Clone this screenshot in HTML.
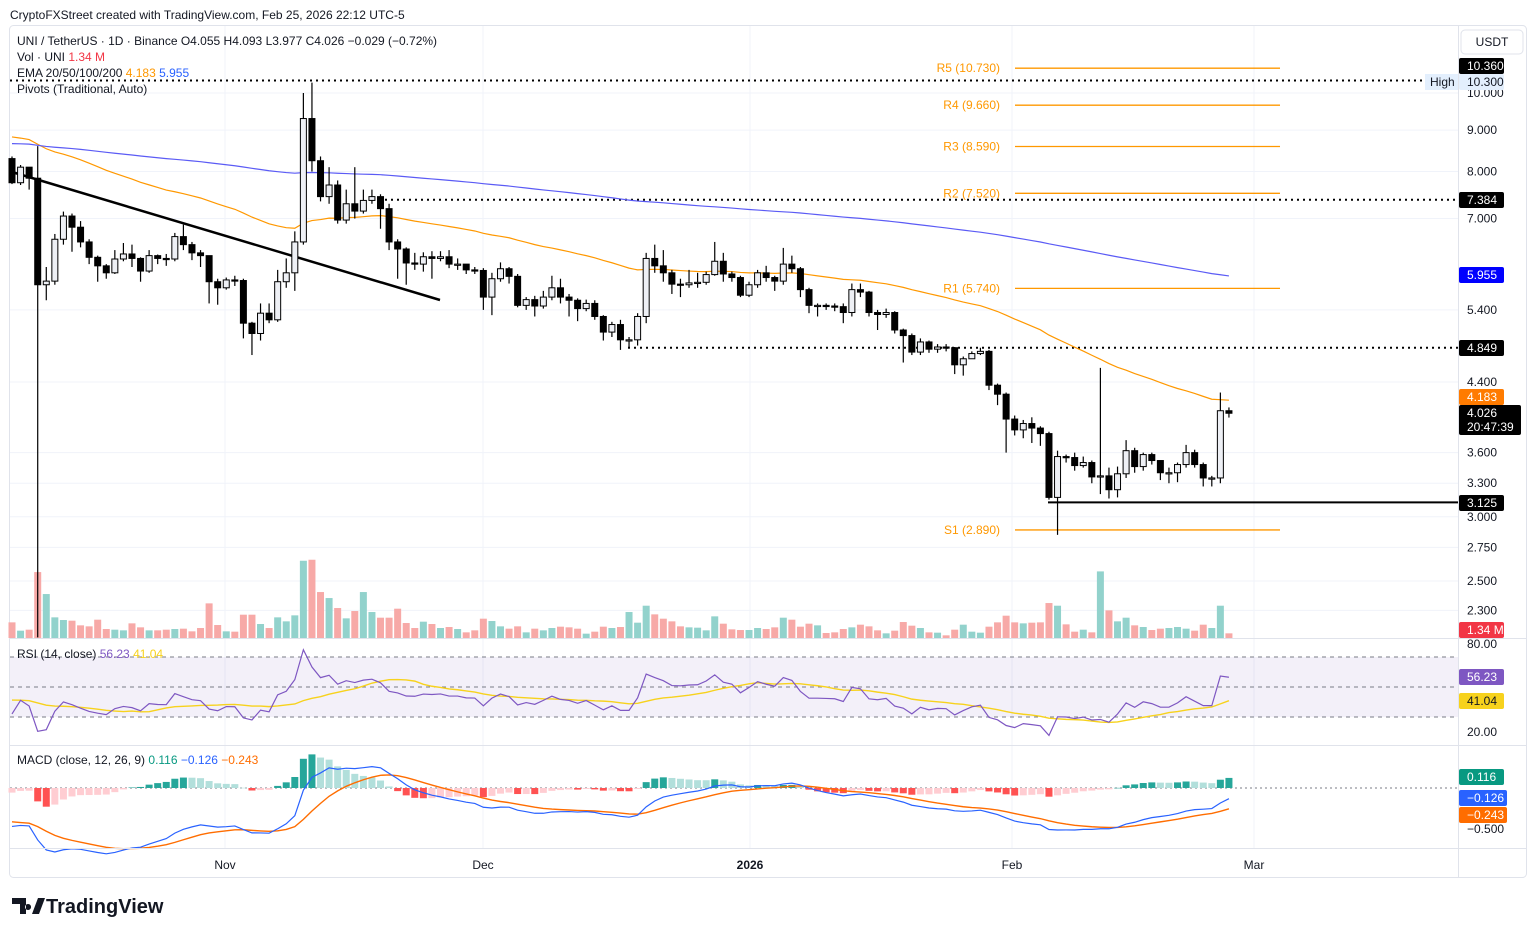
<!DOCTYPE html>
<html><head><meta charset="utf-8"><style>
body{margin:0;background:#fff;width:1536px;height:934px;overflow:hidden;font-family:"Liberation Sans",sans-serif}
svg{display:block}
</style></head><body>
<svg id="c" width="1536" height="934" xmlns="http://www.w3.org/2000/svg" font-family="Liberation Sans, sans-serif">
<rect x="0" y="0" width="1536" height="934" fill="#fff"/>
<text x="10" y="19" font-size="12" fill="#131722">CryptoFXStreet created with TradingView.com, Feb 25, 2026 22:12 UTC-5</text>
<rect x="9.5" y="25.5" width="1517" height="852" rx="4" fill="none" stroke="#e0e3eb"/>
<g id="grid"></g>
<rect x="10" y="657" width="1448" height="60" fill="#7e57c2" fill-opacity="0.09"/>
<g id="levels"></g>
<g id="vol"></g>
<g id="ind"></g>
<g id="candles"></g>
<g id="rsi"></g>
<g id="macd"></g>
<line x1="10" y1="638.5" x2="1527" y2="638.5" stroke="#e0e3eb"/>
<line x1="10" y1="745.5" x2="1527" y2="745.5" stroke="#e0e3eb"/>
<line x1="10" y1="848.5" x2="1527" y2="848.5" stroke="#e0e3eb"/>
<line x1="1458.5" y1="26" x2="1458.5" y2="877" stroke="#e0e3eb"/>
<g id="axis" font-size="12" fill="#131722"></g>
<g font-size="12">
<text x="17" y="45" fill="#131722">UNI / TetherUS · 1D · Binance  O4.055  H4.093  L3.977  C4.026  −0.029 (−0.72%)</text>
<text x="17" y="61" fill="#131722">Vol · UNI  <tspan fill="#f23645">1.34 M</tspan></text>
<text x="17" y="77" fill="#131722">EMA 20/50/100/200  <tspan fill="#ff9800">4.183</tspan>  <tspan fill="#2962ff">5.955</tspan></text>
<text x="17" y="93" fill="#131722">Pivots (Traditional, Auto)</text>
<text x="17" y="658" fill="#131722">RSI (14, close)  <tspan fill="#7e57c2">56.23</tspan>  <tspan fill="#f7d21d">41.04</tspan></text>
<text x="17" y="764" fill="#131722">MACD (close, 12, 26, 9)  <tspan fill="#089981">0.116</tspan>  <tspan fill="#2962ff">−0.126</tspan>  <tspan fill="#ff6d00">−0.243</tspan></text>
</g>
<g font-size="12" fill="#131722">
<text x="225" y="869" text-anchor="middle">Nov</text>
<text x="483" y="869" text-anchor="middle">Dec</text>
<text x="750" y="869" text-anchor="middle" font-weight="bold">2026</text>
<text x="1012" y="869" text-anchor="middle">Feb</text>
<text x="1254" y="869" text-anchor="middle">Mar</text>
</g>
<g>
<path d="M12 898h14v16h-6v-10h-8z M28 904a3 3 0 1 0 0.1 0z M32 914l6-16h7l-6 16z" fill="#131722"/>
<text x="46" y="913" font-size="20" font-weight="bold" fill="#131722">TradingView</text>
</g>
<rect x="1461" y="30" width="62" height="24" rx="4" fill="#fff" stroke="#e0e3eb"/>
<text x="1492" y="46" font-size="12" text-anchor="middle" fill="#131722">USDT</text>
</svg>
<script>
const closes=[7.75,8.1,7.85,5.8,5.86,6.6,7.05,6.83,6.55,6.27,6.12,6.0,6.24,6.33,6.25,6.03,6.3,6.25,6.24,6.65,6.5,6.35,6.3,5.85,5.75,5.88,5.87,5.2,5.05,5.35,5.25,5.85,6.0,6.55,9.3,8.25,7.45,7.7,6.97,7.3,7.15,7.37,7.45,7.2,6.55,6.42,6.17,6.15,6.28,6.25,6.28,6.15,6.15,6.05,6.04,5.6,5.9,6.07,5.94,5.47,5.56,5.46,5.6,5.75,5.6,5.55,5.42,5.5,5.3,5.07,5.18,4.96,4.96,5.3,6.25,6.12,6.0,5.81,5.8,5.83,5.84,5.97,6.2,5.98,5.92,5.63,5.8,6.0,5.92,5.86,6.15,6.07,5.72,5.47,5.47,5.46,5.45,5.36,5.72,5.68,5.36,5.33,5.36,5.1,5.02,4.79,4.93,4.83,4.86,4.85,4.62,4.7,4.77,4.8,4.36,4.25,3.96,3.84,3.91,3.86,3.8,3.17,3.56,3.55,3.47,3.5,3.36,3.37,3.24,3.39,3.62,3.46,3.58,3.52,3.4,3.4,3.48,3.6,3.48,3.35,3.35,4.055,4.026];
const firstOpen=8.3;
const highs=[8.35,8.15,8.0,8.6,6.1,6.7,7.14,7.1,6.95,6.6,6.3,6.15,6.4,6.53,6.5,6.27,6.4,6.32,6.33,6.72,6.88,6.55,6.4,6.3,5.9,5.92,5.95,5.9,5.22,5.5,5.5,6.05,6.25,6.75,10.0,10.3,8.35,8.1,7.8,7.6,8.1,7.6,7.6,7.5,7.3,6.6,6.45,6.35,6.36,6.38,6.38,6.4,6.25,6.15,6.1,6.08,6.0,6.18,6.1,5.98,5.6,5.62,5.7,5.95,5.9,5.65,5.58,5.56,5.55,5.32,5.22,5.25,5.0,5.35,6.35,6.5,6.4,6.05,5.9,6.05,6.0,6.02,6.55,6.35,6.02,5.95,5.85,6.05,6.12,5.95,6.44,6.3,6.1,5.75,5.5,5.5,5.5,5.5,5.82,5.82,5.7,5.4,5.42,5.38,5.12,5.05,4.98,4.95,4.9,4.9,4.86,4.73,4.8,4.85,4.82,4.38,4.27,4.0,3.95,3.98,3.88,3.82,3.62,3.58,3.6,3.56,3.52,4.58,3.45,3.46,3.73,3.65,3.6,3.6,3.52,3.45,3.5,3.68,3.63,3.5,3.37,4.27,4.093];
const lows=[7.72,7.7,7.6,2.13,5.55,5.8,6.5,6.37,6.45,6.15,5.85,5.9,5.98,6.2,6.1,5.85,6.0,6.15,6.12,6.2,6.4,6.22,6.1,5.5,5.48,5.72,5.78,4.98,4.75,4.95,5.2,5.22,5.75,5.7,6.5,8.0,7.35,7.3,6.9,6.9,7.0,7.1,7.3,6.8,6.4,5.9,5.8,6.05,6.02,5.9,6.2,6.08,6.05,5.98,5.98,5.4,5.32,5.85,5.82,5.44,5.4,5.3,5.42,5.55,5.5,5.3,5.23,5.38,5.25,4.95,5.0,4.82,4.85,4.88,5.2,6.0,5.85,5.65,5.6,5.75,5.75,5.8,5.95,5.85,5.85,5.6,5.6,5.75,5.85,5.7,5.8,6.0,5.6,5.35,5.3,5.4,5.38,5.2,5.3,5.6,5.3,5.1,5.28,5.05,4.65,4.75,4.75,4.78,4.78,4.8,4.5,4.48,4.7,4.75,4.3,4.12,3.6,3.78,3.75,3.7,3.67,3.15,2.85,3.5,3.42,3.45,3.3,3.2,3.16,3.17,3.35,3.4,3.42,3.48,3.33,3.3,3.31,3.45,3.45,3.27,3.27,3.3,3.977];
const volumes=[4.7,2.2,2.5,19.8,13.2,6.2,5.4,5.2,3.8,3.5,5.5,2.7,2.5,2.3,4.4,3.2,2.3,2.3,2.5,2.7,2.8,2.0,3.0,10.4,3.9,2.0,1.9,7.0,7.0,4.2,3.0,6.2,5.0,6.8,23.2,23.5,13.8,12.0,9.0,5.9,8.1,13.8,7.8,6.1,6.1,8.8,4.5,3.0,4.9,4.2,3.0,3.3,2.7,1.7,2.3,5.8,5.1,3.5,2.8,3.5,1.7,2.8,2.3,3.0,3.4,3.2,2.8,1.3,1.9,3.4,3.0,3.3,7.8,4.6,9.7,7.1,5.8,5.0,3.5,3.2,3.1,2.3,6.5,4.3,2.6,2.4,2.4,3.0,2.7,3.2,6.1,5.5,3.4,4.3,3.8,1.5,1.7,2.7,3.2,4.0,3.5,2.3,1.4,2.2,4.8,3.7,3.0,1.7,1.6,0.8,2.5,4.0,1.9,1.6,3.4,4.7,6.7,4.7,4.4,4.6,4.7,10.5,9.7,4.1,1.9,2.5,1.7,20.0,8.3,5.0,6.1,3.8,3.3,2.4,2.8,3.0,3.3,2.8,2.2,4.0,3.0,9.7,1.4];
const tickPrices=[10,9,8,7,5.4,4.4,3.6,3.3,3.0,2.75,2.5,2.3];
const tickLabels=["10.000","9.000","8.000","7.000","5.400","4.400","3.600","3.300","3.000","2.750","2.500","2.300"];
const pivotNames=["R5","R4","R3","R2","R1","S1"];
const pivotValues=[10.73,9.66,8.59,7.52,5.74,2.89];
const emaSeeds=[8.87,8.67];
const macdSeeds=[8.48,8.9,-0.38];
const rsiSeeds=[0.06,0.085,42];
const NS="http://www.w3.org/2000/svg";
const X=i=>12+i*8.57;
const yP=p=>93+Math.log(10/p)*352;
const yR=r=>687-(r-50)*1.5;
const yM=m=>788-m*86;
function mk(tag,attrs,parent){const e=document.createElementNS(NS,tag);for(const k in attrs)e.setAttribute(k,attrs[k]);parent.appendChild(e);return e;}
const G=id=>document.getElementById(id);
const opens=closes.map((c,i)=>i===0?firstOpen:closes[i-1]);
const grid=G('grid');
[225,483,750,1012,1254].forEach(x=>{const l=mk('line',{x1:x,y1:26,x2:x,y2:848,stroke:'#f0f3fa'},grid);

});
tickPrices.forEach(p=>{const l=mk('line',{x1:10,y1:yP(p),x2:1458,y2:yP(p),stroke:'#f0f3fa'},grid);

});
const ax=G('axis');
tickPrices.forEach((p,i)=>{const t=mk('text',{x:1467,y:yP(p)+4},ax);t.textContent=tickLabels[i];

});
[[644,'80.00'],[732,'20.00'],[829,'−0.500']].forEach(a=>{const t=mk('text',{x:1467,y:a[0]+4},ax);t.textContent=a[1];

});
const lv=G('levels');
pivotValues.forEach((v,i)=>{const y=yP(v);const l=mk('line',{x1:1015,y1:y,x2:1280,y2:y,stroke:'#ff9800','stroke-width':1.3},lv);


const t=mk('text',{x:1000,y:y+4,'font-size':12,fill:'#ff9800','text-anchor':'end'},lv);t.textContent=pivotNames[i]+' ('+v.toFixed(3)+')';

});
function hline(x1,p,dash,name){const l=mk('line',{x1:x1,y1:yP(p),x2:1458,y2:yP(p),stroke:'#000','stroke-width':2,'stroke-dasharray':dash?'2 4':'none'},lv);

}
hline(10,10.36,true,'high-level-line');
hline(385,7.384,true,'resistance-line-7384');
hline(628,4.849,true,'resistance-line-4849');
hline(1048,3.125,false,'support-line-3125');
const tl=mk('line',{x1:12,y1:172,x2:440,y2:300,stroke:'#000','stroke-width':2.5},lv);


const vg=G('vol');
volumes.forEach((v,i)=>{const up=closes[i]>=opens[i];const h=v*3.33;const r=mk('rect',{x:X(i)-3.5,y:638-h,width:7,height:h,fill:up?'#92d2cc':'#f7a9a7'},vg);

});
const ind=G('ind');
function ema(seed,n){const k=2/(n+1);let e=seed;return closes.map(c=>(e=c*k+e*(1-k)));}
const e50=ema(emaSeeds[0],50),e200=ema(emaSeeds[1],200);
function pline(vals,yf,color,w,parent,name){const p=mk('polyline',{points:vals.map((v,i)=>X(i)+','+yf(v)).join(' '),fill:'none',stroke:color,'stroke-width':w},parent);

return p;}
pline(e50,yP,'#ff9800',1.2,ind,'ema-50-line');
pline(e200,yP,'#5b5bf5',1.2,ind,'ema-200-line');
const cg=G('candles');
closes.forEach((c,i)=>{const o=opens[i];const up=c>=o;const x=X(i);
const w=mk('line',{x1:x,y1:yP(highs[i]),x2:x,y2:yP(lows[i]),stroke:'#000','stroke-width':1.2},cg);


const top=yP(Math.max(o,c)),bot=yP(Math.min(o,c));
const b=mk('rect',{x:x-3,y:top,width:6,height:Math.max(bot-top,1.2),fill:up?'#eef0f5':'#000',stroke:'#000','stroke-width':1},cg);

});
let ag=rsiSeeds[0],al=rsiSeeds[1];
const rsi=closes.map((c,i)=>{const ch=c-opens[i];ag=(ag*13+Math.max(ch,0))/14;al=(al*13+Math.max(-ch,0))/14;return 100-100/(1+ag/al);});
const buf=new Array(14).fill(rsiSeeds[2]);
const rsiMa=rsi.map(r=>{buf.shift();buf.push(r);return buf.reduce((a,b)=>a+b,0)/14;});
const rg=G('rsi');
[70,50,30].forEach(v=>{const l=mk('line',{x1:10,y1:yR(v),x2:1458,y2:yR(v),stroke:'#787b86','stroke-dasharray':'4 4'},rg);

});
pline(rsiMa,yR,'#f7d21d',1.4,rg,'rsi-ma-line');
pline(rsi,yR,'#7e57c2',1.2,rg,'rsi-line');
const k12=2/13,k26=2/27,k9=0.2;let a12=macdSeeds[0],a26=macdSeeds[1],sg=macdSeeds[2];
const macd=[],sig=[],hist=[];
closes.forEach(c=>{a12=c*k12+a12*(1-k12);a26=c*k26+a26*(1-k26);const m=a12-a26;sg=m*k9+sg*(1-k9);macd.push(m);sig.push(sg);hist.push(m-sg);});
const mg=G('macd');
const zl=mk('line',{x1:10,y1:788,x2:1458,y2:788,stroke:'#787b86','stroke-dasharray':'2 3'},mg);


hist.forEach((h,i)=>{const prev=i?hist[i-1]:h;let col=h>=0?(h>=prev?'#26a69a':'#b2dfdb'):(h<prev?'#ff5252':'#ffcdd2');
const y=yM(h);const r=mk('rect',{x:X(i)-3.5,y:Math.min(y,788),width:7,height:Math.max(Math.abs(y-788),0.5),fill:col},mg);

});
pline(sig,yM,'#ff6d00',1.4,mg,'macd-signal-line');
pline(macd,yM,'#2962ff',1.2,mg,'macd-line');
function tag(y,h,w,bg,fg,txt,name){const r=mk('rect',{x:1459,y:y-h/2,width:w,height:h,rx:2,fill:bg},ax);


txt.forEach((s,j)=>{const t=mk('text',{x:1467,y:y-h/2+12+j*14,fill:fg},ax);t.textContent=s;

});}
tag(66,16,45,'#000','#fff',['10.360'],'high-price-tag');
tag(82,16,45,'#e3effd','#131722',['10.300'],'high-value-tag');
tag(200,16,45,'#000','#fff',['7.384'],'level-tag-7384');
tag(275,16,45,'#0000ff','#fff',['5.955'],'ema200-tag');
tag(348,16,45,'#000','#fff',['4.849'],'level-tag-4849');
tag(397,16,45,'#ff7b00','#fff',['4.183'],'ema50-tag');
tag(420,30,62,'#000','#fff',['4.026','20:47:39'],'last-price-tag');
tag(503,16,45,'#000','#fff',['3.125'],'level-tag-3125');
tag(630,16,45,'#f23645','#fff',['1.34 M'],'volume-tag');
tag(677,16,45,'#7e57c2','#fff',['56.23'],'rsi-tag');
tag(701,16,45,'#f7d21d','#131722',['41.04'],'rsi-ma-tag');
tag(777,16,45,'#089981','#fff',['0.116'],'macd-hist-tag');
tag(798,16,48,'#2962ff','#fff',['−0.126'],'macd-tag');
tag(815,16,48,'#ff6d00','#fff',['−0.243'],'signal-tag');
const hb=mk('rect',{x:1425,y:74,width:33,height:16,fill:'#e3effd'},ax);


const ht=mk('text',{x:1430,y:86},ax);ht.textContent='High';


</script>
</body></html>
